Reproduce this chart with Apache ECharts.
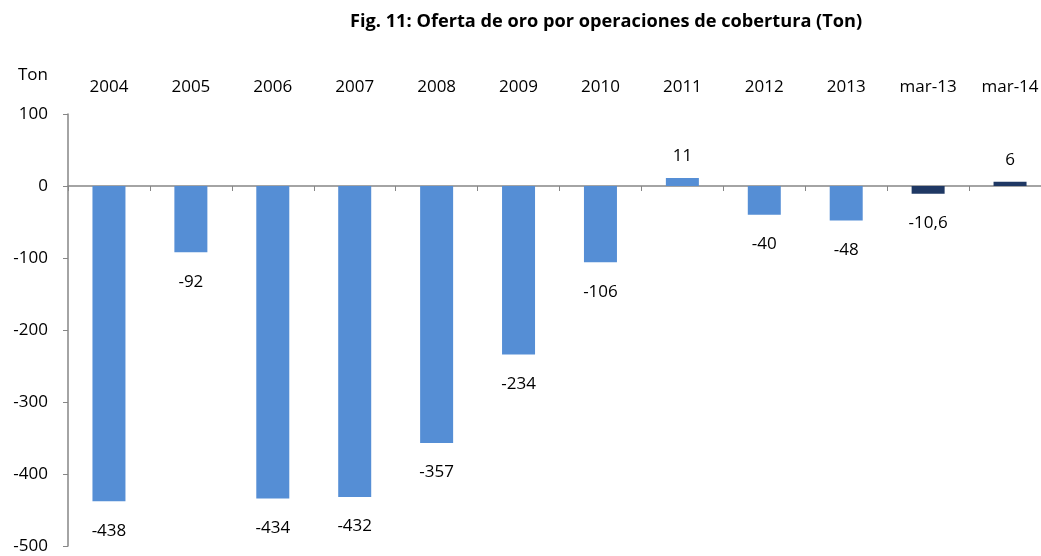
<!DOCTYPE html>
<html>
<head>
<meta charset="utf-8">
<script src="https://cdn.jsdelivr.net/npm/echarts@6/dist/echarts.min.js"></script>
<style>
html,body{margin:0;padding:0;background:#fff;}
#chart{width:1041px;height:556px;}
</style>
</head>
<body>
<div id="chart"></div>
<script>
// oferta de oro por coberturas (Ton)
var categorias = ['2004','2005','2006','2007','2008','2009','2010','2011','2012','2013','mar-13','mar-14'];
var anuales = [-438, -92, -434, -432, -357, -234, -106, 11, -40, -48, '-', '-'];
var trimestrales = ['-', '-', '-', '-', '-', '-', '-', '-', '-', '-', -10.6, 6];

var chart = echarts.init(document.getElementById('chart'));
var fuente = "'Open Sans', sans-serif";

function etiqueta(p) {
    return String(p.value).replace('.', ',');
}
function conPosicion(arr) {
    return arr.map(function (v) {
        if (v === '-') return v;
        return {value: v, label: v < 0 ? {position: 'bottom', distance: 21} : {position: 'top', distance: 13}};
    });
}

var option = {
    animation: false,
    title: {
        text: 'Fig. 11: Oferta de oro por operaciones de cobertura (Ton)',
        left: 345,
        top: 8,
        textStyle: {fontFamily: fuente, fontSize: 18.2, fontWeight: 'bold', color: '#000'}
    },
    grid: {left: 68, top: 114, width: 983, height: 432, outerBoundsMode: 'none'},
    xAxis: [{
        type: 'category',
        data: categorias,
        axisLine: {onZero: true, lineStyle: {color: '#868686', width: 1.5}},
        axisTick: {show: true, length: 5, lineStyle: {color: '#868686'}},
        axisLabel: {show: false}
    }, {
        type: 'category',
        data: categorias,
        position: 'top',
        axisLine: {show: false},
        axisTick: {show: false},
        axisLabel: {margin: 18, fontFamily: fuente, fontSize: 17, color: '#000'}
    }],
    yAxis: {
        type: 'value',
        min: -500,
        max: 100,
        interval: 100,
        name: 'Ton',
        nameGap: 30,
        nameTextStyle: {fontFamily: fuente, fontSize: 17, color: '#000', align: 'right', padding: [0, 20, 0, 0]},
        splitLine: {show: false},
        axisLine: {show: true, lineStyle: {color: '#868686', width: 1.5}},
        axisTick: {show: true, length: 5, lineStyle: {color: '#868686'}},
        axisLabel: {margin: 20, fontFamily: fuente, fontSize: 17, color: '#000'}
    },
    series: [{
        type: 'bar',
        stack: 'a',
        barWidth: 33,
        data: conPosicion(anuales),
        itemStyle: {color: '#558ED5'},
        label: {show: true, formatter: etiqueta, fontFamily: fuente, fontSize: 17, color: '#000'}
    }, {
        type: 'bar',
        stack: 'a',
        barWidth: 33,
        data: conPosicion(trimestrales),
        itemStyle: {color: '#1F3864'},
        label: {show: true, formatter: etiqueta, fontFamily: fuente, fontSize: 17, color: '#000'}
    }]
};
chart.setOption(option);
</script>
</body>
</html>
